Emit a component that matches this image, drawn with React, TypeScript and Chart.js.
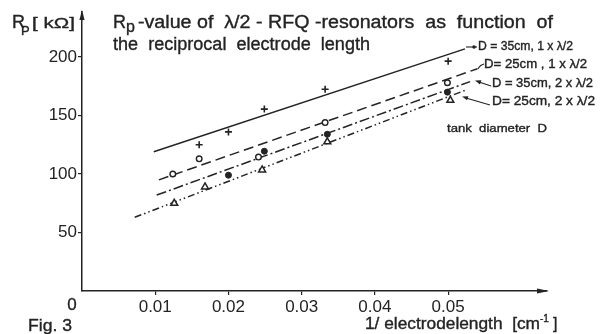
import React, { useEffect, useRef } from "react";
import { Chart, registerables } from "chart.js";

Chart.register(...registerables);

// ---------- data ----------
const xTicks = [0.01, 0.02, 0.03, 0.04, 0.05];
const xTickLabels = ["0.01", "0.02", "0.03", "0.04", "0.05"];
const yTicks = [50, 100, 150, 200];
const yTickLabels = ["50", "100", "150", "200"];

const seriesLabels = [
  "D = 35cm, 1 x λ/2",
  "D= 25cm , 1 x λ/2",
  "D = 35cm, 2 x λ/2",
  "D= 25cm, 2 x λ/2",
];

// measured points (1/electrode length [1/cm], Rp [kOhm])
const d35x1X = [0.016, 0.02, 0.0249, 0.0332, 0.05];
const d35x1Y = [125, 136, 155.5, 172.5, 196.5];
const d25x1X = [0.0124, 0.016, 0.0241, 0.0332, 0.0499];
const d25x1Y = [100, 113, 114.5, 144, 178];
const d35x2X = [0.02, 0.0249, 0.0335, 0.0499];
const d35x2Y = [99, 119.5, 134, 170];
const d25x2X = [0.0126, 0.0168, 0.0246, 0.0335, 0.0503];
const d25x2Y = [75, 89, 103.5, 127.5, 163];

// fitted straight lines (start and end)
const fit35x1X = [0.0098, 0.0523];
const fit35x1Y = [119, 207];
const fit25x1X = [0.0105, 0.054];
const fit25x1Y = [95, 190];
const fit35x2X = [0.0102, 0.053];
const fit35x2Y = [82, 179];
const fit25x2X = [0.0072, 0.0525];
const fit25x2Y = [63, 172];

const xMin = 0;
const xMax = 0.0635;
const yMin = 0;
const yMax = 238.5;

// ---------- style ----------
const INK = "#232323";
const FONT = '"Liberation Sans", Arial, sans-serif';

const pts = (xs: number[], ys: number[]) => xs.map((x, i) => ({ x, y: ys[i] }));

function drawText(
  ctx: CanvasRenderingContext2D,
  s: string,
  x: number,
  y: number,
  size: number,
  targetW?: number,
  baseline: CanvasTextBaseline = "alphabetic",
  align: CanvasTextAlign = "left"
) {
  ctx.font = `normal ${size}px ${FONT}`;
  ctx.textBaseline = baseline;
  ctx.textAlign = align;
  const w = ctx.measureText(s).width;
  ctx.save();
  ctx.translate(x, y);
  if (targetW) ctx.scale(targetW / w, 1);
  ctx.lineWidth = 0.35;
  ctx.fillText(s, 0, 0);
  ctx.strokeText(s, 0, 0);
  ctx.restore();
}

function arrowHead(ctx: CanvasRenderingContext2D, tx: number, ty: number, fx: number, fy: number, len: number, half: number) {
  const dx = tx - fx;
  const dy = ty - fy;
  const L = Math.hypot(dx, dy) || 1;
  const ux = dx / L;
  const uy = dy / L;
  const bx = tx - ux * len;
  const by = ty - uy * len;
  ctx.beginPath();
  ctx.moveTo(tx, ty);
  ctx.lineTo(bx - uy * half, by + ux * half);
  ctx.lineTo(bx + uy * half, by - ux * half);
  ctx.closePath();
  ctx.fill();
}

const decorPlugin = {
  id: "decor",
  afterDraw(chart: any) {
    const ctx: CanvasRenderingContext2D = chart.ctx;
    const { left, right, top, bottom } = chart.chartArea;
    const xs = chart.scales.x;
    ctx.save();
    ctx.fillStyle = INK;
    ctx.strokeStyle = INK;
    ctx.lineWidth = 1.2;

    // axis arrows
    arrowHead(ctx, left, top - 2, left, top + 20, 10, 2.6);
    arrowHead(ctx, right + 2, bottom, right - 20, bottom, 12, 2.6);

    // origin "0"
    drawText(ctx, "0", xs.getPixelForValue(0) - 10, bottom + 14, 17, undefined, "middle", "center");

    // y axis title  R_P [kΩ]
    drawText(ctx, "R", 12, 28, 18);
    drawText(ctx, "P", 21, 35, 13);
    drawText(ctx, "[ kΩ]", 32, 28, 15, 43);

    // chart title
    drawText(ctx, "R", 113, 28, 18);
    drawText(ctx, "p", 126, 32, 16);
    drawText(ctx, "-value of  λ/2 - RFQ -resonators  as  function  of", 138, 28, 18, 415);
    drawText(ctx, "the  reciprocal  electrode  length", 113, 50, 18, 257);

    // x axis title
    drawText(ctx, "1/ electrodelength  [cm", 365, 329, 16, 175);
    drawText(ctx, "-1", 540, 322, 10, 9);
    drawText(ctx, "]", 553, 329, 16);

    // figure label
    drawText(ctx, "Fig. 3", 28, 331, 17, 44);

    // series labels
    drawText(ctx, seriesLabels[0], 478, 47, 12, 95, "middle");
    drawText(ctx, seriesLabels[1], 484, 64.5, 12, 103, "middle");
    drawText(ctx, seriesLabels[2], 492, 83.5, 12, 101, "middle");
    drawText(ctx, seriesLabels[3], 492, 102, 12, 103, "middle");
    drawText(ctx, "tank  diameter  D", 447, 128.5, 11.5, 100, "middle");

    // leaders
    ctx.lineWidth = 1.1;
    ctx.beginPath();
    ctx.moveTo(466, 47);
    ctx.lineTo(477, 47);
    ctx.stroke();
    ctx.beginPath();
    ctx.arc(474, 47, 1.8, 0, Math.PI * 2);
    ctx.fill();

    ctx.beginPath();
    ctx.moveTo(478, 69);
    ctx.quadraticCurveTo(480, 65, 484, 64);
    ctx.stroke();

    ctx.beginPath();
    ctx.moveTo(479, 82);
    ctx.lineTo(491, 86);
    ctx.stroke();
    arrowHead(ctx, 475, 80.5, 491, 86, 6, 2.2);

    ctx.beginPath();
    ctx.moveTo(466, 98);
    ctx.lineTo(490, 105);
    ctx.stroke();
    arrowHead(ctx, 462, 96.5, 490, 105, 6, 2.2);

    ctx.restore();
  },
};

export default function App() {
  const ref = useRef<HTMLCanvasElement | null>(null);

  useEffect(() => {
    if (!ref.current) return;
    const lineDs = (xs: number[], ys: number[], dash: number[]) => ({
      data: pts(xs, ys),
      showLine: true,
      borderColor: INK,
      borderWidth: 1.5,
      borderDash: dash,
      pointRadius: 0,
      fill: false,
      order: 2,
    });
    const chart = new Chart(ref.current, {
      type: "scatter",
      data: {
        datasets: [
          lineDs(fit35x1X, fit35x1Y, []),
          lineDs(fit25x1X, fit25x1Y, [10, 5]),
          lineDs(fit35x2X, fit35x2Y, [10, 3, 2, 3]),
          lineDs(fit25x2X, fit25x2Y, [7, 3, 1.5, 3, 1.5, 3]),
          {
            label: seriesLabels[0],
            data: pts(d35x1X, d35x1Y),
            pointStyle: "cross",
            pointRadius: 3.5,
            borderColor: INK,
            borderWidth: 1.6,
            order: 1,
          },
          {
            label: seriesLabels[1],
            data: pts(d25x1X, d25x1Y),
            pointStyle: "circle",
            pointRadius: 2.8,
            backgroundColor: "#fff",
            borderColor: INK,
            borderWidth: 1.4,
            order: 1,
          },
          {
            label: seriesLabels[2],
            data: pts(d35x2X, d35x2Y),
            pointStyle: "circle",
            pointRadius: 3,
            backgroundColor: INK,
            borderColor: INK,
            borderWidth: 1,
            order: 1,
          },
          {
            label: seriesLabels[3],
            data: pts(d25x2X, d25x2Y),
            pointStyle: "triangle",
            pointRadius: 4,
            backgroundColor: "#fff",
            borderColor: INK,
            borderWidth: 1.5,
            order: 1,
          },
        ] as any,
      },
      options: {
        responsive: false,
        animation: false,
        layout: { padding: { left: 0, right: 56, top: 12, bottom: 0 } },
        plugins: { legend: { display: false }, tooltip: { enabled: false } },
        scales: {
          x: {
            type: "linear",
            min: xMin,
            max: xMax,
            grid: { display: true, drawOnChartArea: false, drawTicks: true, tickLength: 4, color: INK, lineWidth: 1.2 },
            border: { display: true, color: INK, width: 1.5 },
            ticks: {
              color: INK,
              font: { family: FONT, size: 17 },
              padding: 2,
              maxRotation: 0,
              autoSkip: false,
              callback: (_v: any, i: number) => xTickLabels[i],
            },
            afterBuildTicks: (s: any) => {
              s.ticks = xTicks.map((value) => ({ value }));
            },
            afterFit: (s: any) => {
              s.height = 43;
            },
          },
          y: {
            type: "linear",
            min: yMin,
            max: yMax,
            grid: { display: true, drawOnChartArea: false, drawTicks: true, tickLength: 4, color: INK, lineWidth: 1.2 },
            border: { display: true, color: INK, width: 1.5 },
            ticks: {
              color: INK,
              font: { family: FONT, size: 17 },
              padding: 1,
              autoSkip: false,
              callback: (_v: any, i: number) => yTickLabels[i],
            },
            afterBuildTicks: (s: any) => {
              s.ticks = yTicks.map((value) => ({ value }));
            },
            afterFit: (s: any) => {
              s.width = 82;
            },
          },
        },
      } as any,
      plugins: [decorPlugin],
    });
    return () => chart.destroy();
  }, []);

  return (
    <div style={{ position: "fixed", left: 0, top: 0, width: 603, height: 334, background: "#fff" }}>
      <canvas ref={ref} width={603} height={334} style={{ display: "block" }} />
    </div>
  );
}
